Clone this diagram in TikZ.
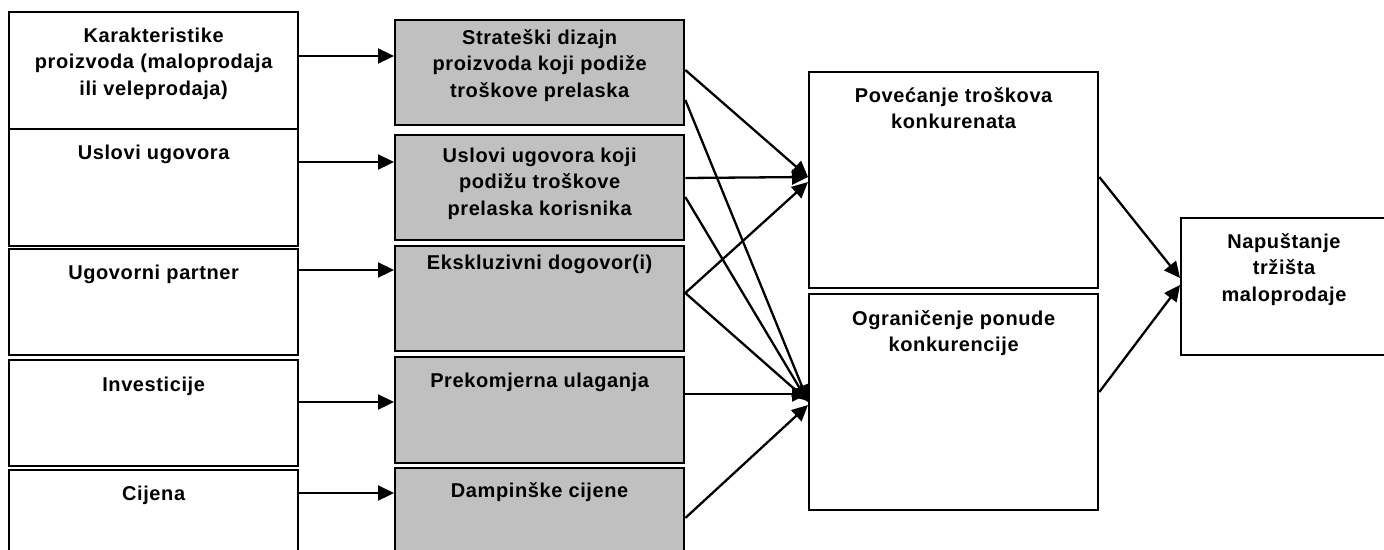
\documentclass[tikz,border=0pt]{standalone}
\usepackage{fontspec}
\setmainfont{Liberation Sans}[LetterSpace=3]
\usetikzlibrary{arrows.meta}
\definecolor{boxgray}{HTML}{C0C0C0}
\newcommand{\fs}{\rule{0pt}{15pt}}
\begin{document}
\begin{tikzpicture}[x=1pt,y=-1pt,
  wbox/.style={draw=black, line width=2.3pt, fill=white, rectangle, inner sep=0pt, anchor=north west, minimum width=289pt},
  gbox/.style={wbox, fill=boxgray},
  txt/.style={anchor=north, inner sep=0pt, align=center, font=\fontsize{20}{26.5}\selectfont\bfseries},
  arr/.style={line width=2.3pt, -{Triangle[length=16pt,width=15pt]}}]
\useasboundingbox (0,0) rectangle (1384,549);
% left column
\node[wbox, minimum height=117pt] (L1) at (8,11) {};
\node[wbox, minimum height=117pt] (L2) at (8,128) {};
\node[wbox, minimum height=106pt] (L3) at (8,248) {};
\node[wbox, minimum height=106pt] (L4) at (8,359) {};
\node[wbox, minimum height=111pt] (L5) at (8,469) {};
% middle column
\node[gbox, minimum height=105pt] (M1) at (394,19) {};
\node[gbox, minimum height=105pt] (M2) at (394,134) {};
\node[gbox, minimum height=105pt] (M3) at (394,245) {};
\node[gbox, minimum height=106pt] (M4) at (394,356) {};
\node[gbox, minimum height=113pt] (M5) at (394,467) {};
% right column
\node[wbox, minimum height=216pt] (R1) at (808,71) {};
\node[wbox, minimum height=216pt] (R2) at (808,293) {};
\node[wbox, minimum width=215pt, minimum height=137pt] (F) at (1180,217) {};
% texts
\node[txt] (tL1) at ([yshift=-16pt]L1.north) {\fs Karakteristike\\proizvoda (maloprodaja\\ili veleprodaja)};
\node[txt] (tL2) at ([yshift=-16pt]L2.north) {\fs Uslovi ugovora};
\node[txt] (tL3) at ([yshift=-16pt]L3.north) {\fs Ugovorni partner};
\node[txt] (tL4) at ([yshift=-17pt]L4.north) {\fs Investicije};
\node[txt] (tL5) at ([yshift=-16pt]L5.north) {\fs Cijena};
\node[txt] (tM1) at ([yshift=-10pt]M1.north) {\fs Strateški dizajn\\proizvoda koji podiže\\troškove prelaska};
\node[txt] (tM2) at ([yshift=-13pt]M2.north) {\fs Uslovi ugovora koji\\podižu troškove\\prelaska korisnika};
\node[txt] (tM3) at ([yshift=-9pt]M3.north) {\fs Ekskluzivni dogovor(i)};
\node[txt] (tM4) at ([yshift=-16pt]M4.north) {\fs Prekomjerna ulaganja};
\node[txt] (tM5) at ([yshift=-15pt]M5.north) {\fs Dampinške cijene};
\node[txt] (tR1) at ([yshift=-16pt]R1.north) {\fs Povećanje troškova\\konkurenata};
\node[txt] (tR2) at ([yshift=-17pt]R2.north) {\fs Ograničenje ponude\\konkurencije};
\node[txt] (tF) at ([xshift=104pt,yshift=-16pt]F.north west) {\fs Napuštanje\\tržišta\\maloprodaje};
% left to middle
\draw[arr] ([yshift=-45pt]L1.north east) -- ([yshift=-37pt]M1.north west);
\draw[arr] ([yshift=-34pt]L2.north east) -- ([yshift=-28pt]M2.north west);
\draw[arr] ([yshift=-22pt]L3.north east) -- ([yshift=-25pt]M3.north west);
\draw[arr] ([yshift=-43pt]L4.north east) -- ([yshift=-46pt]M4.north west);
\draw[arr] ([yshift=-24pt]L5.north east) -- ([yshift=-26pt]M5.north west);
% middle to R1
\draw[arr] ([yshift=-51pt]M1.north east) -- ([yshift=-106pt]R1.north west);
\draw[arr] ([yshift=-44pt]M2.north east) -- ([yshift=-106pt]R1.north west);
\draw[arr] ([yshift=-48pt]M3.north east) -- ([yshift=-111pt]R1.north west);
% middle to R2
\draw[arr] ([yshift=-81pt]M1.north east) -- ([yshift=-108pt]R2.north west);
\draw[arr] ([yshift=-63pt]M2.north east) -- ([yshift=-109pt]R2.north west);
\draw[arr] ([yshift=-48pt]M3.north east) -- ([yshift=-108pt]R2.north west);
\draw[arr] ([yshift=-38pt]M4.north east) -- ([yshift=-101pt]R2.north west);
\draw[arr] ([yshift=-51pt]M5.north east) -- ([yshift=-112pt]R2.north west);
% right to final
\draw[arr] ([yshift=-106pt]R1.north east) -- ([yshift=-61pt]F.north west);
\draw[arr] ([yshift=-99pt]R2.north east) -- ([yshift=-68pt]F.north west);
\end{tikzpicture}
\end{document}
